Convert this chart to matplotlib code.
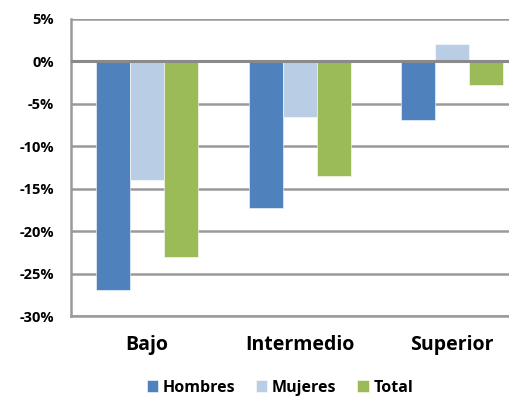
import numpy as np
import matplotlib.pyplot as plt
from matplotlib.ticker import FuncFormatter

categories = ['Bajo', 'Intermedio', 'Superior']
series_names = ['Hombres', 'Mujeres', 'Total']
hombres = [-26.9, -17.3, -6.9]
mujeres = [-14.0, -6.6, 2.1]
total = [-23.1, -13.5, -2.8]
colors = ['#4F81BD', '#B9CDE5', '#9BBB59']

plt.rcParams['font.family'] = ['Open Sans', 'DejaVu Sans']

fig = plt.figure(figsize=(5.09, 4.0), dpi=100)
ax = fig.add_axes([0.1395, 0.21, 0.898, 0.7425])

x = np.arange(len(categories))
w = 0.223
for i, (vals, name) in enumerate(zip([hombres, mujeres, total], series_names)):
    ax.bar(x + (i - 1) * w, vals, width=w, color=colors[i], label=name,
           edgecolor='white', linewidth=0.4, zorder=3)

ax.set_xlim(-0.5, 2.5)
ax.set_ylim(-30, 5)
ax.set_yticks(np.arange(-30, 6, 5))
ax.yaxis.set_major_formatter(FuncFormatter(lambda v, p: '{:.0f}%'.format(v)))
ax.grid(axis='y', color='#9a9a9a', linewidth=1.8, zorder=0)
ax.axhline(0, color='#8a8a8a', linewidth=2.2, zorder=4)

for s in ['top', 'right']:
    ax.spines[s].set_visible(False)
ax.spines['left'].set_color('#9a9a9a')
ax.spines['left'].set_linewidth(1.8)
ax.spines['bottom'].set_color('#9a9a9a')
ax.spines['bottom'].set_linewidth(1.8)

ax.set_xticks(x)
ax.set_xticklabels(categories, fontsize=14, fontweight='bold')
ax.tick_params(axis='x', length=0, pad=14)
ax.tick_params(axis='y', length=0, pad=12, labelsize=10.5)
for t in ax.get_yticklabels():
    t.set_fontweight('bold')

leg = fig.legend(loc='lower center', bbox_to_anchor=(0.55, -0.025), ncol=3,
                 frameon=False, prop={'size': 11.5, 'weight': 'bold'},
                 handlelength=0.7, handleheight=0.7, handletextpad=0.3,
                 columnspacing=1.3)

fig.savefig('out.png', dpi=100)
